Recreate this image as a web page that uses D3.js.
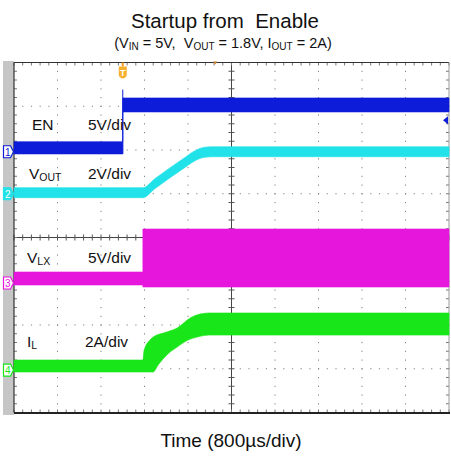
<!DOCTYPE html>
<html>
<head>
<meta charset="utf-8">
<script src="https://cdn.jsdelivr.net/npm/d3@7"></script>
<style>
  html, body { margin: 0; padding: 0; background: #fff; }
  svg { display: block; font-family: "Liberation Sans", Arial, sans-serif; }
  text { white-space: pre; }
</style>
</head>
<body>
<svg id="chart" width="451" height="464"></svg>
<script>
// Time base: 10 divisions x 800 µs
const timeDomainUs = [0, 8000];
const hDivs = 10, vDivs = 8;

// Channel settings: name, volts (or amps) per division, reference level in divisions from top
const channels = [
  { id: 1, label: "EN", sub: "", scaleText: "5V/div", perDiv: 5, refDiv: 2.04, color: "#0c1cd8" },
  { id: 2, label: "V", sub: "OUT", scaleText: "2V/div", perDiv: 2, refDiv: 3.0, color: "#20e2e8" },
  { id: 3, label: "V", sub: "LX", scaleText: "5V/div", perDiv: 5, refDiv: 5.04, color: "#e616dc" },
  { id: 4, label: "I", sub: "L", scaleText: "2A/div", perDiv: 2, refDiv: 7.03, color: "#18e618" }
];

// CH1 EN (V): upper / lower envelope of the trace
const enTime = [0, 2000, 2000, 8000];
const enMax  = [1.15, 1.15, 6.15, 6.15];
const enMin  = [-0.25, -0.25, 4.55, 4.55];
const enEdgePeak = 7.1;

// CH2 VOUT (V): soft-start ramp, trace mean level and band half width
const voutTime  = [0, 2370, 2590, 2870, 3110, 3330, 3510, 3700, 8000];
const voutLevel = [0.05, 0.05, 0.46, 0.96, 1.37, 1.74, 1.90, 1.92, 1.92];
const voutBand  = 0.23;

// CH3 VLX (V): switch node envelope
const vlxTime = [0, 2370, 2370, 8000];
const vlxMax  = [1.26, 1.26, 6.17, 6.17];
const vlxMin  = [-0.23, -0.23, -0.46, -0.46];

// CH4 IL (A): inductor current ripple envelope
const ilMaxTime = [0, 2370, 2390, 2500, 2560, 2810, 3000, 3240, 3420, 3600, 8000];
const ilMax     = [0.46, 0.46, 0.88, 1.37, 1.51, 1.74, 1.92, 2.38, 2.56, 2.61, 2.61];
const ilMinTime = [0, 2560, 2650, 2810, 3000, 3200, 3370, 3600, 8000];
const ilMin     = [-0.09, -0.09, 0.23, 0.69, 1.05, 1.37, 1.51, 1.60, 1.60];

// Trigger position (µs) and trigger level marker on CH1 (V)
const triggerTime = 2000;
const triggerLevel = 3.6;

const svg = d3.select("#chart");
const plot = { left: 14, right: 449, top: 62.5, bottom: 412.5 };
const divW = (plot.right - plot.left) / hDivs;
const divH = (plot.bottom - plot.top) / vDivs;

const x = d3.scaleLinear().domain(timeDomainUs).range([plot.left, plot.right]);
const chY = ch => d3.scaleLinear()
  .domain([0, ch.perDiv])
  .range([plot.top + ch.refDiv * divH, plot.top + (ch.refDiv - 1) * divH]);

// Titles
svg.append("text").attr("x", 225).attr("y", 28).attr("text-anchor", "middle")
  .attr("font-size", 20.5).attr("fill", "#111").text("Startup from  Enable");

const sub = svg.append("text").attr("x", 223).attr("y", 48).attr("text-anchor", "middle")
  .attr("font-size", 14.5).attr("fill", "#111");
const subParts = [["(V", 0], ["IN", 1], [" = 5V,  V", 0], ["OUT", 1], [" = 1.8V, I", 0], ["OUT", 1], [" = 2A)", 0]];
subParts.forEach(([t, isSub], i) => {
  const prevSub = i > 0 && subParts[i - 1][1];
  const ts = sub.append("tspan").text(t).attr("dy", isSub ? 2 : (prevSub ? -2 : 0));
  if (isSub) ts.attr("font-size", 10);
});

svg.append("text").attr("x", 231).attr("y", 447).attr("text-anchor", "middle")
  .attr("font-size", 19).attr("fill", "#111").text("Time (800µs/div)");

// Scope screen: left gutter strip
svg.append("rect").attr("x", 3).attr("y", 61).attr("width", plot.left - 3).attr("height", 354)
  .attr("fill", "#c6c6c6");
svg.append("rect").attr("x", plot.left).attr("y", plot.top).attr("width", plot.right - plot.left)
  .attr("height", plot.bottom - plot.top).attr("fill", "#fff");

// Graticule
const g = svg.append("g");
const minorX = d3.range(0, hDivs * 5 + 1).map(i => plot.left + i * divW / 5);
const minorY = d3.range(0, vDivs * 5 + 1).map(i => plot.top + i * divH / 5);

// dotted division lines
for (let i = 1; i < hDivs; i++) {
  if (i === hDivs / 2) continue;
  const xx = plot.left + i * divW;
  minorY.forEach(yy => g.append("rect").attr("x", xx - 0.5).attr("y", yy - 0.5)
    .attr("width", 1).attr("height", 1.2).attr("fill", "#808080"));
}
for (let j = 1; j < vDivs; j++) {
  if (j === vDivs / 2) continue;
  const yy = plot.top + j * divH;
  minorX.forEach(xx => g.append("rect").attr("x", xx - 0.5).attr("y", yy - 0.5)
    .attr("width", 1.2).attr("height", 1).attr("fill", "#808080"));
}

// center cross with minor ticks
const cx = plot.left + hDivs / 2 * divW;
const cy = plot.top + vDivs / 2 * divH;
g.append("line").attr("x1", plot.left).attr("x2", plot.right).attr("y1", cy).attr("y2", cy)
  .attr("stroke", "#444").attr("stroke-width", 1);
g.append("line").attr("x1", cx).attr("x2", cx).attr("y1", plot.top).attr("y2", plot.bottom)
  .attr("stroke", "#444").attr("stroke-width", 1);
minorX.forEach(xx => g.append("line").attr("x1", xx).attr("x2", xx).attr("y1", cy - 3).attr("y2", cy + 3)
  .attr("stroke", "#555"));
minorY.forEach(yy => g.append("line").attr("x1", cx - 3).attr("x2", cx + 3).attr("y1", yy).attr("y2", yy)
  .attr("stroke", "#555"));

// frame ticks
minorX.forEach(xx => {
  g.append("line").attr("x1", xx).attr("x2", xx).attr("y1", plot.top).attr("y2", plot.top + 3).attr("stroke", "#777");
  g.append("line").attr("x1", xx).attr("x2", xx).attr("y1", plot.bottom - 3).attr("y2", plot.bottom).attr("stroke", "#777");
});
minorY.forEach(yy => {
  g.append("line").attr("x1", plot.left).attr("x2", plot.left + 3).attr("y1", yy).attr("y2", yy).attr("stroke", "#777");
  g.append("line").attr("x1", plot.right - 3).attr("x2", plot.right).attr("y1", yy).attr("y2", yy).attr("stroke", "#777");
});

// frame
g.append("line").attr("x1", plot.left).attr("x2", plot.right).attr("y1", plot.top).attr("y2", plot.top)
  .attr("stroke", "#333").attr("stroke-width", 1.2);
g.append("line").attr("x1", plot.left).attr("x2", plot.left).attr("y1", plot.top).attr("y2", plot.bottom)
  .attr("stroke", "#333").attr("stroke-width", 1.2);
g.append("line").attr("x1", plot.right).attr("x2", plot.right).attr("y1", plot.top).attr("y2", plot.bottom)
  .attr("stroke", "#999").attr("stroke-width", 1);
g.append("line").attr("x1", plot.left).attr("x2", plot.right + 1).attr("y1", plot.bottom + 0.5).attr("y2", plot.bottom + 0.5)
  .attr("stroke", "#222").attr("stroke-width", 2.2);

// Traces
const traces = svg.append("g");
const envPath = (ch, tUp, vUp, tLo, vLo, curve) => {
  const y = chY(ch);
  const up = tUp.map((t, i) => [x(t), y(vUp[i])]);
  const lo = tLo.map((t, i) => [x(t), y(vLo[i])]).reverse();
  const line = d3.line().curve(curve || d3.curveLinear);
  return line(up) + "L" + line(lo).slice(1) + "Z";
};

// EN
const yEn = chY(channels[0]);
traces.append("path").attr("d", envPath(channels[0], enTime, enMax, enTime, enMin))
  .attr("fill", channels[0].color).attr("stroke", channels[0].color).attr("stroke-width", 0.6);
traces.append("line").attr("x1", x(triggerTime)).attr("x2", x(triggerTime))
  .attr("y1", yEn(enMin[1])).attr("y2", yEn(enEdgePeak))
  .attr("stroke", channels[0].color).attr("stroke-width", 1);

// VOUT
const voutArea = d3.area().curve(d3.curveMonotoneX)
  .x((d, i) => x(voutTime[i]))
  .y0((d, i) => chY(channels[1])(voutLevel[i] - voutBand))
  .y1((d, i) => chY(channels[1])(voutLevel[i] + voutBand));
traces.append("path").attr("d", voutArea(voutTime))
  .attr("fill", channels[1].color).attr("stroke", channels[1].color).attr("stroke-width", 0.6);

// VLX
traces.append("path").attr("d", envPath(channels[2], vlxTime, vlxMax, vlxTime, vlxMin))
  .attr("fill", channels[2].color).attr("stroke", channels[2].color).attr("stroke-width", 0.6);

// IL
traces.append("path").attr("d", envPath(channels[3], ilMaxTime, ilMax, ilMinTime, ilMin, d3.curveMonotoneX))
  .attr("fill", channels[3].color).attr("stroke", channels[3].color).attr("stroke-width", 0.6);

// Channel labels
const labelY = [130, 179, 263, 347];
const labelX = [32, 29, 27, 27];
channels.forEach((ch, i) => {
  const t = svg.append("text").attr("x", labelX[i]).attr("y", labelY[i]).attr("font-size", 15.5).attr("fill", "#111");
  t.append("tspan").text(ch.label);
  if (ch.sub) t.append("tspan").attr("font-size", 10.5).attr("dy", 1.5).text(ch.sub);
  svg.append("text").attr("x", ch.id === 4 ? 85 : 88).attr("y", labelY[i]).attr("font-size", 15.5)
    .attr("fill", "#111").text(ch.scaleText);
});

// Channel ground markers in the gutter
channels.forEach(ch => {
  const yy = chY(ch)(0);
  const m = svg.append("g").attr("transform", `translate(3.5,${yy})`);
  m.append("path").attr("d", "M0,-6 H7 L10,0 L7,6 H0 Z")
    .attr("fill", ch.id === 2 ? ch.color : "#fff").attr("stroke", ch.color).attr("stroke-width", 1.2);
  m.append("text").attr("x", 4.2).attr("y", 4).attr("text-anchor", "middle").attr("font-size", 10)
    .attr("fill", ch.id === 2 ? "#fff" : ch.color).text(ch.id);
});

// Trigger position marker
const tm = svg.append("g").attr("transform", `translate(${x(triggerTime)},${plot.top})`);
tm.append("line").attr("x1", 0).attr("x2", 0).attr("y1", 0).attr("y2", 4).attr("stroke", "#f0a020").attr("stroke-width", 2);
tm.append("path").attr("d", "M-4,4 H4 V12 Q4,15 0,16 Q-4,15 -4,12 Z").attr("fill", "#f5b030");
tm.append("text").attr("x", 0).attr("y", 13.5).attr("text-anchor", "middle").attr("font-size", 9)
  .attr("font-weight", "bold").attr("fill", "#fff").text("T");
svg.append("path").attr("d", `M${x(3700) - 2},${plot.top - 1} h4 l-2,3 z`).attr("fill", "#d08020");

// Trigger level marker on the right edge
const ty = yEn(triggerLevel);
svg.append("path").attr("d", `M${plot.right - 6},${ty} l5,-4 v8 z`).attr("fill", channels[0].color);
</script>
</body>
</html>
